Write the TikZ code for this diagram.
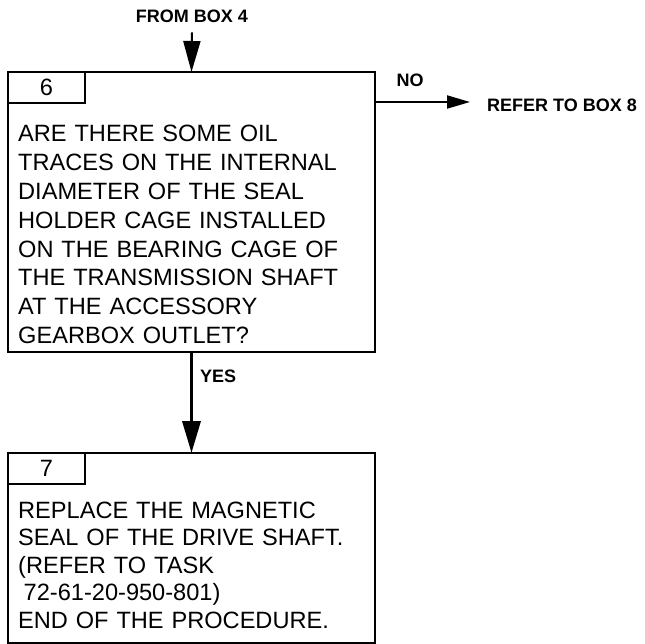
\documentclass[tikz,border=0pt]{standalone}
\usepackage{fontspec}
\setmainfont{Liberation Sans}
\usetikzlibrary{arrows.meta}
\begin{document}
\begin{tikzpicture}[x=1pt,y=-1pt,
  frame/.style={draw, line width=1.8pt, inner sep=0pt, outer sep=0pt, anchor=north west},
  tabbox/.style={draw, line width=1.8pt, inner sep=0pt, outer sep=0pt, anchor=north west,
    minimum width=77pt, minimum height=31pt, font=\fontsize{23.6}{28}\selectfont},
  body/.style={anchor=base west, inner sep=0pt, text width=355pt, align=left},
  lbl/.style={inner sep=0pt, font=\bfseries\fontsize{18}{20}\selectfont},
  arrtop/.style={-{Triangle[length=31pt,width=17pt]}, line width=2pt},
  arryes/.style={-{Triangle[length=32pt,width=18pt]}, line width=3.5pt},
  arrno/.style={-{Triangle[length=23pt,width=13pt]}, line width=2pt}
]
\useasboundingbox (0,0) rectangle (645,644);

% box 6
\node[frame, minimum width=367pt, minimum height=280pt] (b1) at (8,72) {};
\node[tabbox] (t1) at (b1.north west) {6};
\node[body, font=\fontsize{23.6}{28.8}\selectfont] (q1) at (18,142) {ARE THERE SOME OIL\\TRACES ON THE INTERNAL\\DIAMETER OF THE SEAL\\HOLDER CAGE INSTALLED\\ON THE BEARING CAGE OF\\THE TRANSMISSION SHAFT\\AT THE ACCESSORY\\GEARBOX OUTLET?};

% incoming
\node[lbl, anchor=base] (from) at (192,23) {FROM BOX 4};
\draw[arrtop] ([yshift=-9pt]from.south) -- (b1.north);

% NO branch
\node[lbl, anchor=base] (no) at (410,87) {NO};
\node[lbl, anchor=base west] (refer) at (487,112) {REFER TO BOX 8};
\coordinate (nostart) at (375,102);
\coordinate (noend) at (470,102);
\draw[arrno] (nostart) -- (noend);

% box 7
\node[frame, minimum width=367pt, minimum height=190pt] (b2) at (8,453) {};
\node[tabbox] (t2) at (b2.north west) {7};
\node[body, font=\fontsize{23.6}{27.6}\selectfont] (a2) at (18,518) {REPLACE THE MAGNETIC\\SEAL OF THE DRIVE SHAFT.\\(REFER TO TASK\\\hspace*{5.5pt}72-61-20-950-801)\\END OF THE PROCEDURE.};

% YES branch
\draw[arryes] (b1.south) -- (b2.north);
\node[lbl, anchor=base west] (yes) at (200,382) {YES};
\end{tikzpicture}
\end{document}
